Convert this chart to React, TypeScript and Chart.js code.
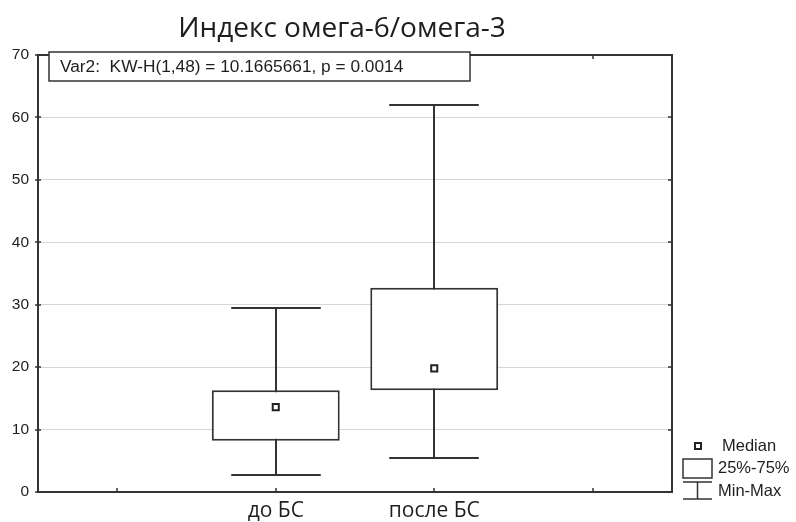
import React, { useEffect, useRef } from 'react';
import { Chart, registerables } from 'chart.js';

Chart.register(...registerables);

const categories = ['', 'до БС', 'после БС', ''];
const minValues = [null, 2.8, 5.5, null];
const q1Values = [null, 8.2, 16.3, null];
const medianValues = [null, 13.6, 19.8, null];
const q3Values = [null, 16.3, 32.7, null];
const maxValues = [null, 29.4, 62.0, null];
const yTicks = [0, 10, 20, 30, 40, 50, 60, 70];
const titleText = 'Индекс омега-6/омега-3';
const statsText = 'Var2:  KW-H(1,48) = 10.1665661, p = 0.0014';
const legendLabels = ['Median', '25%-75%', 'Min-Max'];

const LINE = '#333333';
const TEXT = '#1e1e1e';
const SANS = '"Liberation Sans", Arial, sans-serif';

const extrasPlugin = {
  id: 'boxExtras',
  beforeDatasetsDraw(chart: any) {
    const { ctx, scales } = chart;
    const x = scales.x;
    const y = scales.y;
    const meta = chart.getDatasetMeta(1);
    ctx.save();
    ctx.strokeStyle = LINE;
    ctx.lineWidth = 2;
    categories.forEach((_, i) => {
      const lo = minValues[i];
      const hi = maxValues[i];
      if (lo == null || hi == null) return;
      const bar = meta.data[i];
      const cx = Math.round(x.getPixelForValue(i));
      const half = (bar ? bar.width : 128) * 0.35;
      const yLo = Math.round(y.getPixelForValue(lo));
      const yHi = Math.round(y.getPixelForValue(hi));
      ctx.beginPath();
      ctx.moveTo(cx, yLo);
      ctx.lineTo(cx, yHi);
      ctx.moveTo(cx - half, yLo);
      ctx.lineTo(cx + half, yLo);
      ctx.moveTo(cx - half, yHi);
      ctx.lineTo(cx + half, yHi);
      ctx.stroke();
    });
    ctx.restore();
  },
  afterDraw(chart: any) {
    const { ctx, chartArea: a, scales } = chart;
    const x = scales.x;
    const y = scales.y;
    ctx.save();
    // frame
    ctx.strokeStyle = LINE;
    ctx.lineWidth = 2;
    ctx.strokeRect(a.left, a.top, a.right - a.left, a.bottom - a.top);
    // inward ticks
    ctx.lineWidth = 1.5;
    ctx.beginPath();
    yTicks.forEach((v) => {
      const py = Math.round(y.getPixelForValue(v));
      ctx.moveTo(a.left - 3, py);
      ctx.lineTo(a.left + 3, py);
      ctx.moveTo(a.right - 4, py);
      ctx.lineTo(a.right, py);
    });
    categories.forEach((_, i) => {
      const px = Math.round(x.getPixelForValue(i));
      ctx.moveTo(px, a.bottom);
      ctx.lineTo(px, a.bottom - 4);
      ctx.moveTo(px, a.top);
      ctx.lineTo(px, a.top + 4);
    });
    ctx.stroke();

    // title
    ctx.fillStyle = TEXT;
    ctx.font = '28px "Open Sans", sans-serif';
    ctx.textAlign = 'center';
    ctx.textBaseline = 'alphabetic';
    ctx.fillText(titleText, 342, 37);

    // stats box
    ctx.fillStyle = '#ffffff';
    ctx.fillRect(49, 52, 421, 29);
    ctx.strokeStyle = LINE;
    ctx.lineWidth = 1.5;
    ctx.strokeRect(49, 52, 421, 29);
    ctx.fillStyle = TEXT;
    ctx.font = '17.3px ' + SANS;
    ctx.textAlign = 'left';
    ctx.textBaseline = 'middle';
    ctx.fillText(statsText, 60, 67);

    // legend
    ctx.strokeStyle = '#222';
    ctx.lineWidth = 2;
    ctx.fillStyle = '#fff';
    ctx.fillRect(695, 443, 6, 6);
    ctx.strokeRect(695, 443, 6, 6);
    ctx.lineWidth = 1.5;
    ctx.strokeStyle = LINE;
    ctx.strokeRect(683, 459, 29, 19);
    ctx.beginPath();
    ctx.moveTo(683, 482); ctx.lineTo(712, 482);
    ctx.moveTo(683, 499); ctx.lineTo(712, 499);
    ctx.moveTo(697.5, 482); ctx.lineTo(697.5, 499);
    ctx.stroke();
    ctx.fillStyle = TEXT;
    ctx.font = '16.5px ' + SANS;
    ctx.textAlign = 'left';
    ctx.textBaseline = 'middle';
    ctx.fillText(legendLabels[0], 722, 446);
    ctx.fillText(legendLabels[1], 718, 468);
    ctx.fillText(legendLabels[2], 718, 491);
    ctx.restore();
  },
};

export default function App() {
  const ref = useRef<HTMLCanvasElement | null>(null);
  useEffect(() => {
    if (!ref.current) return;
    const chart = new Chart(ref.current, {
      type: 'bar',
      data: {
        labels: categories,
        datasets: [
          {
            type: 'line',
            data: medianValues as any,
            showLine: false,
            pointStyle: 'rect',
            pointRadius: 4.3,
            pointBackgroundColor: '#ffffff',
            pointBorderColor: '#222222',
            pointBorderWidth: 2,
            order: 0,
          } as any,
          {
            type: 'bar',
            data: categories.map((_, i) =>
              q1Values[i] == null ? null : [q1Values[i], q3Values[i]]
            ) as any,
            backgroundColor: '#ffffff',
            borderColor: LINE,
            borderWidth: 2,
            borderSkipped: false,
            barPercentage: 0.807,
            categoryPercentage: 1,
            order: 1,
          } as any,
        ],
      },
      options: {
        responsive: false,
        animation: false,
        devicePixelRatio: 1,
        layout: { padding: { top: 55, right: 124, left: 0, bottom: 0 } },
        plugins: {
          legend: { display: false },
          tooltip: { enabled: false },
          title: { display: false },
        },
        scales: {
          x: {
            type: 'category',
            offset: true,
            grid: { display: false, drawTicks: false },
            border: { display: false },
            ticks: {
              color: TEXT,
              font: { family: '"Open Sans", sans-serif', size: 21 },
              padding: 6,
              maxRotation: 0,
              autoSkip: false,
            },
            afterFit: (s: any) => {
              s.height = 30;
            },
          },
          y: {
            type: 'linear',
            min: 0,
            max: 70,
            grid: { color: '#d6d6d6', lineWidth: 1, drawTicks: false },
            border: { display: false },
            ticks: {
              color: TEXT,
              font: { family: SANS, size: 15.5 },
              padding: 9,
            },
            afterBuildTicks: (s: any) => {
              s.ticks = yTicks.map((v) => ({ value: v }));
            },
            afterFit: (s: any) => {
              s.width = 38;
            },
          },
        },
      },
      plugins: [extrasPlugin],
    } as any);
    return () => chart.destroy();
  }, []);
  return (
    <div style={{ position: 'fixed', left: 0, top: 0, width: 796, height: 522, background: '#fff' }}>
      <canvas ref={ref} width={796} height={522} style={{ width: 796, height: 522 }} />
    </div>
  );
}
